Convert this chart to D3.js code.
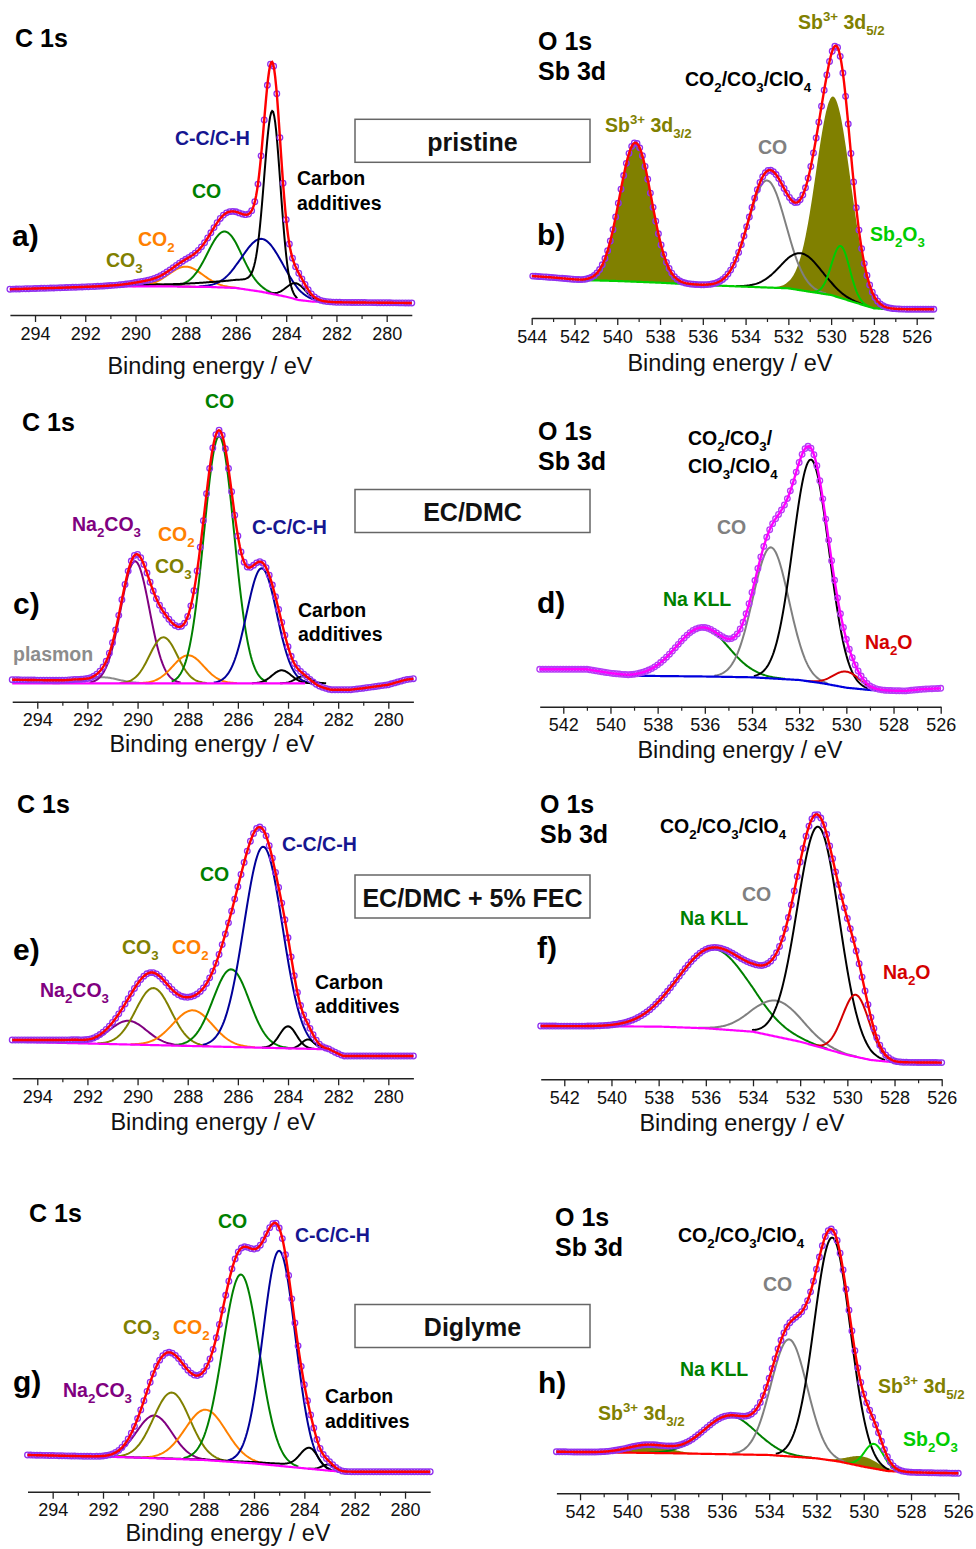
<!DOCTYPE html>
<html>
<head>
<meta charset="utf-8">
<script src="https://cdn.jsdelivr.net/npm/d3@7"></script>
<style>
  body { margin: 0; background: #fff; }
  svg text { font-family: "Liberation Sans", Arial, sans-serif; }
</style>
</head>
<body>
<svg id="chart" width="976" height="1549"></svg>
<script>
// ---- data (intensities in arbitrary units) ----
const c1sTicks = [294, 292, 290, 288, 286, 284, 282, 280];
const c1sMinor = [293, 291, 289, 287, 285, 283, 281];
const o1sTicksWide = [544, 542, 540, 538, 536, 534, 532, 530, 528, 526];
const o1sMinorWide = [543, 541, 539, 537, 535, 533, 531, 529, 527];
const o1sTicks = [542, 540, 538, 536, 534, 532, 530, 528, 526];
const o1sMinor = [541, 539, 537, 535, 533, 531, 529, 527];

// background knots [binding energy, intensity]
const aBackground = [[295, 25.7], [293, 27], [291, 28.5], [289, 28.7], [287, 28], [286, 27], [285, 23.3],
  [284, 18.3], [283.5, 15], [283, 13.5], [282, 12.7], [279, 12]];
const bBackground = [[541.7, 38], [540, 37], [538, 35.3], [536, 33], [534, 31.3], [532, 29.7], [531, 26.3],
  [530, 23], [529, 16.3], [528, 9.7], [527.5, 9]];
const bBaseline = [[544, 42], [543, 40.5], ...bBackground, [526, 8.7], [525.2, 8.7]];
const cBackground = [[295, 18.4], [283.3, 18.4]];
const cBaseline = [[295, 22], [292.5, 21], [291.9, 18.4], [284, 18.4], [283, 16.5], [282.3, 12], [281.5, 12],
  [281, 13.5], [280, 17], [279.3, 22], [279, 23]];
const dBackground = [[539.2, 31], [536, 30.2], [534, 29.4], [532, 26.7], [531, 23.4], [530, 19], [529, 16.7],
  [528, 16], [527.5, 15.8]];
const dBaseline = [[543, 37.4], [541, 37.4], [540, 33.5], ...dBackground, [526.8, 17.5], [526, 18.4]];
const eBackground = [[295, 36.6], [282.4, 29]];
const eBaseline = [[295, 38.3], [292.5, 38.3], [291.8, 36.1], [282.4, 29], [281.8, 22.3], [279, 22.3]];
const fBackground = [[543, 53.3], [538, 52.7], [536, 51], [534, 47.6], [532, 37.6], [531, 31], [530, 24.3],
  [529, 19.3], [528, 17], [526, 16.7]];
const gBackground = [[295, 36.7], [291, 34.4], [288, 31.7], [286, 28.3], [284, 23.4], [283, 21], [282.5, 20]];
const gBaseline = [...gBackground, [281, 20], [279, 20]];
const hBackground = [[543, 41.6], [538, 40], [534, 38.3], [532, 35], [531, 31.6], [530, 26.6], [529, 22.3],
  [528, 21], [527.7, 20.8]];
const hBaseline = [...hBackground, [526, 20]];

// fitted components [species, centre eV, FWHM eV, height, tail height, tail decay]
const aPeaks = [
  ["co3", 289.6, 1.5, 3], ["co2", 288.0, 1.6, 20], ["co", 286.45, 1.6, 56], ["cc", 284.95, 1.9, 53],
  ["carbon", 284.55, 0.75, 183, 17, 2], ["carbon", 283.6, 0.9, 16]
];
const bPeaks = [
  ["sb", 539.15, 1.75, 139], ["sb", 529.9, 1.9, 199], ["oxCO", 533.0, 2.05, 107], ["oxCO2", 531.4, 2.26, 37],
  ["sb2o3", 529.55, 1.0, 52]
];
const cPeaks = [
  ["plasmon", 291.4, 1.5, 6], ["na2co3", 290.1, 1.35, 122], ["co3", 288.97, 1.3, 46], ["co2", 287.98, 1.46, 28],
  ["co", 286.75, 1.42, 247], ["cc", 285.05, 1.42, 115], ["carbon", 284.25, 0.9, 13], ["carbon", 283.4, 0.7, 7]
];
const dPeaks = [
  ["naKLL", 536.1, 2.6, 49], ["oxCO", 533.2, 1.8, 131], ["oxCO2", 531.5, 1.8, 222], ["na2o", 530.0, 1.3, 16]
];
const ePeaks = [
  ["na2co3", 290.37, 1.73, 23.7], ["co3", 289.37, 1.66, 57], ["co2", 287.8, 1.86, 35.7], ["co", 286.27, 1.7, 77.6],
  ["cc", 284.99, 1.81, 201], ["carbon", 284.0, 0.8, 22], ["carbon", 283.2, 0.6, 9.4]
];
const fPeaks = [
  ["naKLL", 535.68, 3.6, 80], ["oxCO", 532.97, 2.5, 36], ["oxCO2", 531.23, 2.1, 220], ["na2o", 529.64, 1.34, 62]
];
const gPeaks = [
  ["na2co3", 289.96, 1.66, 42.7], ["co3", 289.27, 1.7, 66.3], ["co2", 287.92, 1.92, 50.4], ["co", 286.52, 1.7, 188],
  ["cc", 285.0, 1.52, 215], ["carbon", 283.8, 0.8, 21, 4, 2], ["carbon", 283.05, 0.6, 6]
];
const hPeaks = [
  ["sb", 539.13, 2.0, 8], ["sb", 530.03, 1.5, 10], ["naKLL", 535.67, 2.6, 38.4], ["oxCO", 533.16, 1.8, 117],
  ["oxCO2", 531.33, 1.8, 223], ["sb2o3", 529.56, 0.95, 24.7]
];

const speciesColor = {
  cc: "#000099", co: "#008000", co2: "#ff8000", co3: "#808000", na2co3: "#800080", carbon: "#000000",
  plasmon: "#8c8c8c", oxCO: "#808080", oxCO2: "#000000", naKLL: "#008000", na2o: "#d40000",
  sb: "#808000", sb2o3: "#00cc00"
};
const filledSpecies = ["sb"];

// ---- layout ----
const LABEL = 19.5;
const HEAD = 25;
const LETTER = 30;
const panels = [
  {
    domain: [295, 279], xRange: [9.9, 411.8], axisY: 315, ticks: c1sTicks, minor: c1sMinor,
    bg: aBackground, peaks: aPeaks, bgColor: "#ff00ff", fitColor: "#ff0000", dotColor: "#9030f0",
    title: [210, 374],
    labels: [
      [15, 47, "C 1s", "#000", HEAD], [12, 246, "a)", "#000", LETTER],
      [175, 145, "C-C/C-H", "#161690", LABEL], [192, 198, "CO", "#008000", LABEL],
      [138, 246, "CO_{2}", "#ff8000", LABEL], [106, 267, "CO_{3}", "#808000", LABEL],
      [297, 185, "Carbon", "#000", LABEL], [297, 210, "additives", "#000", LABEL]
    ]
  },
  {
    domain: [544, 525.2], xRange: [531.7, 933.8], axisY: 318, ticks: o1sTicksWide, minor: o1sMinorWide,
    bg: bBackground, base: bBaseline, peaks: bPeaks, bgColor: "#00d000", fitColor: "#ff0000", dotColor: "#9030f0",
    title: [730, 371],
    labels: [
      [538, 50, "O 1s", "#000", HEAD], [538, 80, "Sb 3d", "#000", HEAD], [537, 245, "b)", "#000", LETTER],
      [798, 29, "Sb^{3+} 3d_{5/2}", "#808000", LABEL], [685, 86, "CO_{2}/CO_{3}/ClO_{4}", "#000", LABEL],
      [605, 132, "Sb^{3+} 3d_{3/2}", "#808000", LABEL], [758, 154, "CO", "#808080", LABEL],
      [870, 241, "Sb_{2}O_{3}", "#00cc00", LABEL]
    ]
  },
  {
    domain: [295, 279], xRange: [12.2, 413.4], axisY: 701.7, ticks: c1sTicks, minor: c1sMinor,
    bg: cBackground, base: cBaseline, peaks: cPeaks, bgColor: "#ff00ff", fitColor: "#ff0000", dotColor: "#9030f0",
    title: [212, 752],
    labels: [
      [22, 431, "C 1s", "#000", HEAD], [13, 614, "c)", "#000", LETTER], [205, 408, "CO", "#008000", LABEL],
      [72, 531, "Na_{2}CO_{3}", "#800080", LABEL], [158, 541, "CO_{2}", "#ff8000", LABEL],
      [155, 573, "CO_{3}", "#808000", LABEL], [252, 534, "C-C/C-H", "#161690", LABEL],
      [298, 617, "Carbon", "#000", LABEL], [298, 641, "additives", "#000", LABEL],
      [13, 661, "plasmon", "#8c8c8c", LABEL]
    ]
  },
  {
    domain: [543, 526], xRange: [539.7, 940.7], axisY: 706.7, ticks: o1sTicks, minor: o1sMinor,
    bg: dBackground, base: dBaseline, peaks: dPeaks, bgColor: "#0000dd", fitColor: "#ff00ff", dotColor: "#b33cf5",
    title: [740, 758],
    labels: [
      [538, 440, "O 1s", "#000", HEAD], [538, 470, "Sb 3d", "#000", HEAD], [537, 613, "d)", "#000", LETTER],
      [688, 445, "CO_{2}/CO_{3}/", "#000", LABEL], [688, 473, "ClO_{3}/ClO_{4}", "#000", LABEL],
      [717, 534, "CO", "#808080", LABEL], [663, 606, "Na KLL", "#008000", LABEL],
      [865, 649, "Na_{2}O", "#d40000", LABEL]
    ]
  },
  {
    domain: [295, 279], xRange: [12.2, 413.4], axisY: 1078.3, ticks: c1sTicks, minor: c1sMinor,
    bg: eBackground, base: eBaseline, peaks: ePeaks, bgColor: "#ff00ff", fitColor: "#ff0000", dotColor: "#9030f0",
    title: [213, 1130],
    labels: [
      [17, 813, "C 1s", "#000", HEAD], [13, 960, "e)", "#000", LETTER], [282, 851, "C-C/C-H", "#161690", LABEL],
      [200, 881, "CO", "#008000", LABEL], [122, 954, "CO_{3}", "#808000", LABEL],
      [172, 954, "CO_{2}", "#ff8000", LABEL], [40, 997, "Na_{2}CO_{3}", "#800080", LABEL],
      [315, 989, "Carbon", "#000", LABEL], [315, 1013, "additives", "#000", LABEL]
    ]
  },
  {
    domain: [543, 526], xRange: [540.7, 941.7], axisY: 1079.3, ticks: o1sTicks, minor: o1sMinor,
    bg: fBackground, peaks: fPeaks, bgColor: "#ff00ff", fitColor: "#ff0000", dotColor: "#9030f0",
    title: [742, 1131],
    labels: [
      [540, 813, "O 1s", "#000", HEAD], [540, 843, "Sb 3d", "#000", HEAD], [537, 958, "f)", "#000", LETTER],
      [660, 833, "CO_{2}/CO_{3}/ClO_{4}", "#000", LABEL], [742, 901, "CO", "#808080", LABEL],
      [680, 925, "Na KLL", "#008000", LABEL], [883, 979, "Na_{2}O", "#d40000", LABEL]
    ]
  },
  {
    domain: [295, 279], xRange: [27.5, 430.2], axisY: 1491.7, ticks: c1sTicks, minor: c1sMinor,
    bg: gBackground, base: gBaseline, peaks: gPeaks, bgColor: "#ff00ff", fitColor: "#ff0000", dotColor: "#9030f0",
    title: [228, 1541],
    labels: [
      [29, 1222, "C 1s", "#000", HEAD], [13, 1392, "g)", "#000", LETTER], [218, 1228, "CO", "#008000", LABEL],
      [295, 1242, "C-C/C-H", "#161690", LABEL], [123, 1334, "CO_{3}", "#808000", LABEL],
      [173, 1334, "CO_{2}", "#ff8000", LABEL], [63, 1397, "Na_{2}CO_{3}", "#800080", LABEL],
      [325, 1403, "Carbon", "#000", LABEL], [325, 1428, "additives", "#000", LABEL]
    ]
  },
  {
    domain: [543, 526], xRange: [556.4, 958.3], axisY: 1493.3, ticks: o1sTicks, minor: o1sMinor,
    bg: hBackground, base: hBaseline, peaks: hPeaks, bgColor: "#ff0000", fitColor: "#ff0000", dotColor: "#9030f0",
    title: null,
    labels: [
      [555, 1226, "O 1s", "#000", HEAD], [555, 1256, "Sb 3d", "#000", HEAD], [538, 1393, "h)", "#000", LETTER],
      [678, 1242, "CO_{2}/CO_{3}/ClO_{4}", "#000", LABEL], [763, 1291, "CO", "#808080", LABEL],
      [680, 1376, "Na KLL", "#008000", LABEL], [878, 1393, "Sb^{3+} 3d_{5/2}", "#808000", LABEL],
      [598, 1420, "Sb^{3+} 3d_{3/2}", "#808000", LABEL], [903, 1446, "Sb_{2}O_{3}", "#00cc00", LABEL]
    ]
  }
];

const boxes = [
  ["pristine", 119.3], ["EC/DMC", 489.5], ["EC/DMC + 5% FEC", 875], ["Diglyme", 1304.5]
];

// ---- helpers ----
const FOUR_LN2 = 4 * Math.LN2;

function peakValue(p, e) {
  const [, c, w, h, t = 0, d = 1] = p;
  let v = h * Math.exp(-FOUR_LN2 * (e - c) * (e - c) / (w * w));
  if (t && e > c) v += t * Math.exp(-(e - c) / d) * (1 - Math.exp(-Math.pow((e - c) / 0.4, 2)));
  return v;
}

function knotScale(knots) {
  return d3.scaleLinear()
    .domain(knots.map(k => k[0]))
    .range(knots.map(k => k[1]))
    .clamp(true);
}

function richText(sel, str, size) {
  const re = /([_^])\{([^}]*)\}|([^_^]+)/g;
  let m, shift = 0;
  while ((m = re.exec(str))) {
    if (m[3]) {
      sel.append("tspan").attr("dy", -shift).text(m[3]);
      shift = 0;
    } else {
      const s = m[1] === "_" ? size * 0.3 : -size * 0.4;
      sel.append("tspan").attr("dy", s - shift).attr("font-size", size * 0.68).text(m[2]);
      shift = s;
    }
  }
}

const svg = d3.select("#chart");

function drawPanel(cfg) {
  const g = svg.append("g");
  const x = d3.scaleLinear().domain(cfg.domain).range(cfg.xRange);
  const y = d3.scaleLinear().domain([0, 300]).range([cfg.axisY, cfg.axisY - 300]);
  const bg = knotScale(cfg.bg);
  const base = knotScale(cfg.base || cfg.bg);
  const lo = Math.min(...cfg.domain), hi = Math.max(...cfg.domain);

  const fine = d3.range(lo, hi + 1e-6, 0.04);
  const envelope = e => base(e) + d3.sum(cfg.peaks, p => peakValue(p, e));

  const line = d3.line().x(d => x(d[0])).y(d => y(d[1]));

  // filled components
  cfg.peaks.filter(p => filledSpecies.includes(p[0])).forEach(p => {
    const pts = fine.filter(e => Math.abs(e - p[1]) < 1.6 * p[2]);
    g.append("path")
      .attr("fill", speciesColor[p[0]])
      .attr("d", d3.area().x(e => x(e)).y0(e => y(bg(e))).y1(e => y(bg(e) + peakValue(p, e)))(pts));
  });

  // component lines
  cfg.peaks.filter(p => !filledSpecies.includes(p[0])).forEach(p => {
    const extra = p[4] ? 4 * p[5] : 0;
    const pts = fine.filter(e => e > p[1] - 1.35 * p[2] && e < p[1] + 1.35 * p[2] + extra);
    g.append("path")
      .attr("fill", "none")
      .attr("stroke", speciesColor[p[0]])
      .attr("stroke-width", 2)
      .attr("d", line(pts.map(e => [e, bg(e) + peakValue(p, e)])));
  });

  // background
  const bgLo = Math.min(...cfg.bg.map(k => k[0])), bgHi = Math.max(...cfg.bg.map(k => k[0]));
  const bgPts = fine.filter(e => e >= bgLo - 1e-6 && e <= bgHi + 1e-6);
  g.append("path")
    .attr("fill", "none")
    .attr("stroke", cfg.bgColor)
    .attr("stroke-width", 2.2)
    .attr("d", line(bgPts.map(e => [e, bg(e)])));

  // measured points
  const measured = d3.range(lo, hi + 1e-6, 0.125);
  g.append("g")
    .selectAll("circle")
    .data(measured)
    .join("circle")
    .attr("cx", e => x(e))
    .attr("cy", e => y(envelope(e)))
    .attr("r", 2.8)
    .attr("fill", "none")
    .attr("stroke", cfg.dotColor)
    .attr("stroke-width", 1.3);

  // fit envelope
  g.append("path")
    .attr("fill", "none")
    .attr("stroke", cfg.fitColor)
    .attr("stroke-width", 2.4)
    .attr("d", line(fine.map(e => [e, envelope(e)])));

  // axis
  const major = g.append("g")
    .attr("transform", `translate(0,${cfg.axisY})`)
    .call(d3.axisBottom(x).tickValues(cfg.ticks).tickSize(7).tickSizeOuter(0).tickPadding(5).tickFormat(d3.format("d")));
  major.select(".domain").attr("stroke", "#222").attr("stroke-width", 1.4);
  major.selectAll(".tick line").attr("stroke", "#222").attr("stroke-width", 1.3);
  major.selectAll(".tick text")
    .attr("font-family", "'Liberation Sans', Arial, sans-serif")
    .attr("font-size", 18)
    .attr("fill", "#111");
  const minor = g.append("g")
    .attr("transform", `translate(0,${cfg.axisY})`)
    .call(d3.axisBottom(x).tickValues(cfg.minor).tickSize(4).tickSizeOuter(0).tickFormat(""));
  minor.select(".domain").remove();
  minor.selectAll(".tick line").attr("stroke", "#222").attr("stroke-width", 1.2);

  if (cfg.title) {
    g.append("text")
      .attr("x", cfg.title[0])
      .attr("y", cfg.title[1])
      .attr("text-anchor", "middle")
      .attr("font-size", 23.5)
      .attr("fill", "#111")
      .text("Binding energy / eV");
  }

  cfg.labels.forEach(([lx, ly, str, color, size]) => {
    const t = g.append("text")
      .attr("x", lx)
      .attr("y", ly)
      .attr("fill", color)
      .attr("font-size", size)
      .attr("font-weight", "bold");
    richText(t, str, size);
  });
}

panels.forEach(drawPanel);

// sample boxes
boxes.forEach(([name, top]) => {
  svg.append("rect")
    .attr("x", 355)
    .attr("y", top)
    .attr("width", 235)
    .attr("height", 43)
    .attr("fill", "#fff")
    .attr("stroke", "#666")
    .attr("stroke-width", 1.5);
  svg.append("text")
    .attr("x", 472.5)
    .attr("y", top + 31.5)
    .attr("text-anchor", "middle")
    .attr("font-family", "Lato, 'Open Sans', sans-serif")
    .attr("font-weight", "bold")
    .attr("font-size", 25)
    .attr("fill", "#111")
    .text(name);
});
</script>
</body>
</html>
